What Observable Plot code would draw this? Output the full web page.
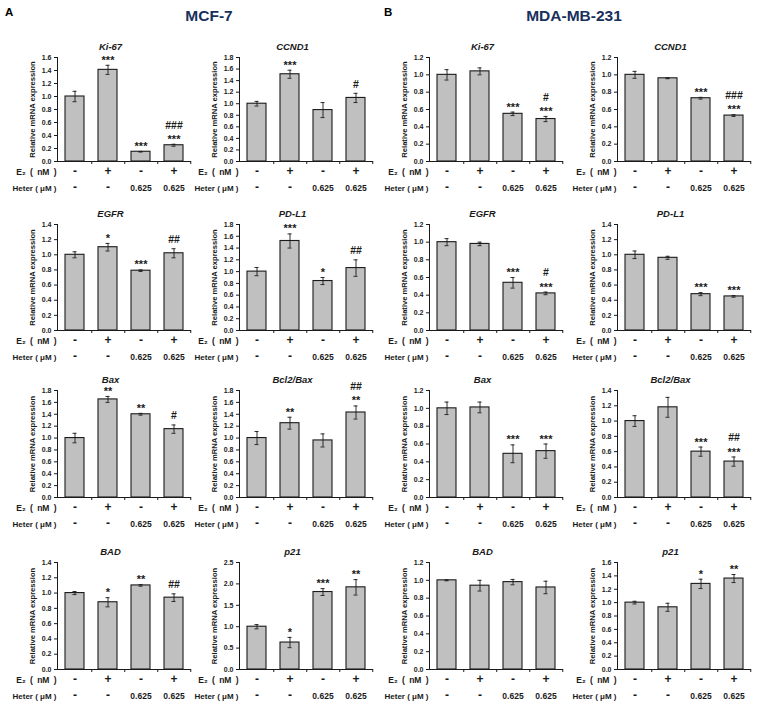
<!DOCTYPE html>
<html><head><meta charset="utf-8">
<script src="https://cdn.jsdelivr.net/npm/d3@7"></script>
<script src="https://cdn.jsdelivr.net/npm/@observablehq/plot@0.6"></script>
<style>
html,body{margin:0;padding:0;background:#fff;overflow:hidden;}
#fig{position:relative;width:758px;height:708px;font-family:"Liberation Sans",Arial,sans-serif;overflow:hidden;}
.abs{position:absolute;line-height:1;white-space:nowrap;}
.letter{font-size:11.5px;font-weight:bold;color:#000;}
.head{font-size:15.5px;font-weight:bold;color:#18305c;transform:translate(-50%,-50%);}
.panel{position:absolute;}
.panel svg{max-width:none !important;}
</style></head>
<body><div id="fig"></div>
<script>
// Categories / tick labels
const groups = ["g1","g2","g3","g4"];
const e2Labels = ["-","+","-","+"];
const heterLabels = ["-","-","0.625","0.625"];
const genes = ["Ki-67","CCND1","EGFR","PD-L1","Bax","Bcl2/Bax","BAD","p21"];
const e2RowLabel = "E\u2082\u2002(\u2002nM\u2002)";
const heterRowLabel = "Heter ( \u03bcM )";
const yLabel = "Relative mRNA expression";

// MCF-7 values
const mcf7Mean = [[1.00,1.41,0.15,0.25],[1.00,1.51,0.89,1.10],[1.00,1.10,0.79,1.02],[1.00,1.52,0.84,1.06],
                  [1.00,1.65,1.40,1.15],[1.00,1.25,0.96,1.43],[1.00,0.88,1.10,0.94],[1.00,0.63,1.81,1.92]];
const mcf7Err  = [[0.08,0.07,0.005,0.015],[0.04,0.07,0.13,0.08],[0.04,0.05,0.01,0.06],[0.07,0.12,0.06,0.14],
                  [0.08,0.05,0.015,0.07],[0.11,0.10,0.11,0.11],[0.02,0.06,0.01,0.05],[0.05,0.12,0.08,0.18]];
const mcf7Stars = [["","***","***","***"],["","***","",""],["","*","***",""],["","***","*",""],
                   ["","**","**",""],["","**","","**"],["","*","**",""],["","*","***","**"]];
const mcf7Hash  = [["","","","###"],["","","","#"],["","","","##"],["","","","##"],
                   ["","","","#"],["","","","##"],["","","","##"],["","","",""]];
const mcf7Max  = [1.6,1.8,1.4,1.8,1.8,1.8,1.4,2.5];
const mcf7Step = [0.2,0.2,0.2,0.2,0.2,0.2,0.2,0.5];

// MDA-MB-231 values
const mdaMean = [[1.00,1.04,0.55,0.49],[1.00,0.96,0.73,0.53],[1.00,0.98,0.54,0.42],[1.00,0.96,0.48,0.45],
                 [1.00,1.01,0.49,0.52],[1.00,1.18,0.60,0.47],[1.00,0.94,0.98,0.92],[1.00,0.93,1.28,1.36]];
const mdaErr  = [[0.06,0.04,0.02,0.03],[0.04,0.005,0.01,0.01],[0.04,0.02,0.06,0.015],[0.05,0.02,0.02,0.01],
                 [0.07,0.06,0.10,0.08],[0.07,0.13,0.06,0.06],[0.005,0.06,0.03,0.07],[0.02,0.06,0.07,0.06]];
const mdaStars = [["","","***","***"],["","","***","***"],["","","***","***"],["","","***","***"],
                  ["","","***","***"],["","","***","***"],["","","",""],["","","*","**"]];
const mdaHash  = [["","","","#"],["","","","###"],["","","","#"],["","","",""],
                  ["","","",""],["","","","##"],["","","",""],["","","",""]];
const mdaMax  = [1.2,1.2,1.2,1.4,1.2,1.4,1.2,1.6];
const mdaStep = [0.2,0.2,0.2,0.2,0.2,0.2,0.2,0.2];

// Layout
const colAxisX = [57, 239, 429, 617];
const rowTop = [57, 224, 390, 562];
const rowH = [104, 106, 107, 107];
const ML = 52, MT = 24, MB = 38, MR = 6, PW = 134;
const halfStep = PW / groups.length / 2;

const fig = document.getElementById("fig");
function addDiv(cls, text, x, y){
  const d = document.createElement("div");
  d.className = "abs " + cls; d.textContent = text;
  d.style.left = x + "px"; d.style.top = y + "px";
  fig.appendChild(d);
}
addDiv("letter", "A", 5, 7);
addDiv("letter", "B", 384, 7);
addDiv("head", "MCF-7", 209, 16);
addDiv("head", "MDA-MB-231", 574, 16);

function panel(gene, mean, err, stars, hash, yMax, yStep, axisX, top, h){
  const data = groups.map((g,i)=>({g, v:mean[i], e:err[i], s:stars[i], h:hash[i], e2:e2Labels[i], ht:heterLabels[i]}));
  const ink = "#1a1a1a";
  const W = ML+PW+MR, H = MT+h+MB;
  const p = Plot.plot({
    width: W, height: H,
    marginLeft: ML, marginRight: MR, marginTop: MT, marginBottom: MB,
    style: {background:"transparent", fontFamily:"'Liberation Sans', Arial, sans-serif", fontWeight:"bold", color:ink, overflow:"visible"},
    x: {domain: groups, paddingInner: 0.41, paddingOuter: 0.205, axis: null},
    y: {domain: [0, yMax], axis: null},
    marks: [
      Plot.barY(data, {x:"g", y:"v", fill:"#c0c0c0", stroke:ink, strokeWidth:1.1}),
      Plot.ruleX(data, {x:"g", y1:d=>d.v-d.e, y2:d=>d.v+d.e, stroke:ink, strokeWidth:0.9}),
      Plot.tickY(data, {x:"g", y:d=>d.v+d.e, insetLeft:7.5, insetRight:7.5, stroke:ink, strokeWidth:0.9}),
      Plot.tickY(data, {x:"g", y:d=>d.v-d.e, insetLeft:7.5, insetRight:7.5, stroke:ink, strokeWidth:0.9}),
      Plot.frame({anchor:"left", stroke:ink, strokeWidth:1}),
      Plot.ruleY([0], {stroke:ink, strokeWidth:1}),
      Plot.axisX({tickSize:3, tickFormat:()=>"", label:null, dx:halfStep, stroke:ink, strokeWidth:1}),
      Plot.axisY({ticks: d3.range(0, yMax + 1e-9, yStep), tickFormat: d3.format(".1f"), tickSize:3, tickPadding:3, fontSize:7, label:null, stroke:ink}),
      Plot.text([yLabel], {frameAnchor:"left", textAnchor:"middle", rotate:-90, dx:-25, fontSize:7.6, fill:ink}),
      Plot.text([gene], {frameAnchor:"top", dy:-14, dx:-14, fontSize:9.5, fontStyle:"italic", fill:ink}),
      Plot.text(data, {x:"g", y:d=>d.v+d.e, text:"s", dy:-5, fontSize:11, fill:ink}),
      Plot.text(data.filter(d=>d.h && d.s), {x:"g", y:d=>d.v+d.e, text:"h", dy:-19, fontSize:10.5, fill:ink}),
      Plot.text(data.filter(d=>d.h && !d.s), {x:"g", y:d=>d.v+d.e, text:"h", dy:-9, fontSize:10.5, fill:ink}),
      Plot.text(data, {x:"g", text:"e2", frameAnchor:"bottom", dy:13, fontSize:12, fill:ink}),
      Plot.text(data, {x:"g", text:"ht", frameAnchor:"bottom", dy:29, fontSize:d=>d.ht === "-" ? 12 : 8.5, fill:ink}),
      Plot.text([e2RowLabel], {frameAnchor:"bottom-left", textAnchor:"end", dx:-1, dy:13, fontSize:8.5, fill:ink}),
      Plot.text([heterRowLabel], {frameAnchor:"bottom-left", textAnchor:"end", dx:-1, dy:29, fontSize:8, fill:ink})
    ]
  });
  const wrap = document.createElement("div");
  wrap.className = "panel";
  wrap.style.left = (axisX - ML) + "px";
  wrap.style.top = (top - MT) + "px";
  wrap.style.width = W + "px";
  wrap.style.height = H + "px";
  wrap.appendChild(p);
  fig.appendChild(wrap);
}

genes.forEach((gene, i) => {
  const r = Math.floor(i/2), c = i % 2;
  panel(gene, mcf7Mean[i], mcf7Err[i], mcf7Stars[i], mcf7Hash[i], mcf7Max[i], mcf7Step[i], colAxisX[c], rowTop[r], rowH[r]);
  panel(gene, mdaMean[i], mdaErr[i], mdaStars[i], mdaHash[i], mdaMax[i], mdaStep[i], colAxisX[c+2], rowTop[r], rowH[r]);
});
</script>
</body></html>
